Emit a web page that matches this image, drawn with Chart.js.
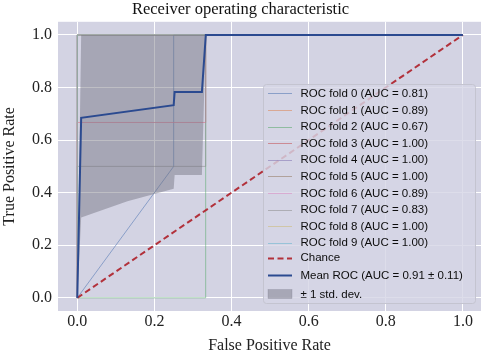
<!DOCTYPE html>
<html><head><meta charset="utf-8">
<script src="https://cdn.jsdelivr.net/npm/chart.js@4/dist/chart.umd.min.js"></script>
<style>html,body{margin:0;padding:0;background:#fff;overflow:hidden}#wrap{width:481px;height:355px;position:relative}</style>
</head><body><div id="wrap"><canvas id="c" width="481" height="355"></canvas></div>
<script>
// ---- data ----
const xTicks = [0, 0.2, 0.4, 0.6, 0.8, 1.0];
const yTicks = [0, 0.2, 0.4, 0.6, 0.8, 1.0];
const foldLabels = [
  'ROC fold 0 (AUC = 0.81)', 'ROC fold 1 (AUC = 0.89)', 'ROC fold 2 (AUC = 0.67)',
  'ROC fold 3 (AUC = 1.00)', 'ROC fold 4 (AUC = 1.00)', 'ROC fold 5 (AUC = 1.00)',
  'ROC fold 6 (AUC = 0.89)', 'ROC fold 7 (AUC = 0.83)', 'ROC fold 8 (AUC = 1.00)',
  'ROC fold 9 (AUC = 1.00)'
];
const foldFpr = [
  [0, 0.25, 0.25, 1],
  [0, 0, 0.333, 0.333, 1],
  [0, 0.333, 0.333, 1],
  [0, 0, 1],
  [0, 0, 1],
  [0, 0, 1],
  [0, 0, 0.333, 0.333, 1],
  [0, 0, 0.333, 0.333, 1],
  [0, 0, 1],
  [0, 0, 1]
];
const foldTpr = [
  [0, 0.5, 1, 1],
  [0, 0.667, 0.667, 1, 1],
  [0, 0, 1, 1],
  [0, 1, 1],
  [0, 1, 1],
  [0, 1, 1],
  [0, 0.667, 0.667, 1, 1],
  [0, 0.5, 0.5, 1, 1],
  [0, 1, 1],
  [0, 1, 1]
];
const chanceLabel = 'Chance';
const chanceFpr = [0, 1];
const chanceTpr = [0, 1];
const meanLabel = 'Mean ROC (AUC = 0.91 \u00b1 0.11)';
const meanFpr = [0, 0.0101, 0.25, 0.2525, 0.3232, 0.3333, 1];
const meanTpr = [0, 0.685, 0.733, 0.783, 0.783, 1, 1];
const bandLabel = '\u00b1 1 std. dev.';
const bandFpr = [0, 0.0101, 0.13, 0.25, 0.2525, 0.3232, 0.3333, 1];
const bandUpper = [0, 1, 1, 1, 1, 1, 1, 1];
const bandLower = [0, 0.306, 0.367, 0.415, 0.467, 0.467, 1, 1];

// ---- styles ----
const foldColors = ['#4C72B0','#DD8452','#55A868','#C44E52','#8172B3','#937860','#DA8BC3','#8C8C8C','#CCB974','#64B5CD'];
function hexA(h, a){const n=parseInt(h.slice(1),16);return `rgba(${n>>16},${(n>>8)&255},${n&255},${a})`;}
const pts = (xs, ys) => xs.map((x, i) => ({x: x, y: ys[i]}));
const serif = 'Liberation Serif';

const datasets = [];
foldLabels.forEach((lab, i) => {
  datasets.push({label: lab, data: pts(foldFpr[i], foldTpr[i]), borderColor: hexA(foldColors[i], 0.55),
    borderWidth: 1, pointRadius: 0, showLine: true, tension: 0, fill: false, order: 20 - i, kind: 'line'});
});
datasets.push({label: chanceLabel, data: pts(chanceFpr, chanceTpr), borderColor: 'rgba(176,40,50,0.95)',
  borderWidth: 2, borderDash: [6, 3.5], pointRadius: 0, showLine: true, fill: false, order: 6, kind: 'line'});
datasets.push({label: bandLabel, data: pts(bandFpr, bandUpper), borderWidth: 0, borderColor: 'rgba(0,0,0,0)',
  backgroundColor: 'rgba(110,110,125,0.45)', pointRadius: 0, showLine: true, fill: {target: datasets.length + 1},
  order: 5, kind: 'box'});
datasets.push({label: '', data: pts(bandFpr, bandLower), borderWidth: 0, borderColor: 'rgba(0,0,0,0)',
  pointRadius: 0, showLine: true, fill: false, order: 5, kind: 'none'});
datasets.push({label: meanLabel, data: pts(meanFpr, meanTpr), borderColor: '#2b4a90',
  borderWidth: 2, pointRadius: 0, showLine: true, fill: false, order: 4, kind: 'line'});

const bgPlugin = {
  id: 'bg',
  beforeDraw(chart) {
    const {ctx, chartArea: a} = chart;
    ctx.save();
    ctx.fillStyle = '#fff'; ctx.fillRect(0, 0, chart.width, chart.height);
    ctx.fillStyle = '#d3d3e3'; ctx.fillRect(a.left, a.top, a.right - a.left, a.bottom - a.top);
    ctx.restore();
  }
};

const legendPlugin = {
  id: 'innerLegend',
  afterDatasetsDraw(chart) {
    const ctx = chart.ctx;
    const ds = chart.data.datasets;
    ctx.save();
    const bx = 263.5, by = 84.5, bw = 212, bh = 219, r = 3;
    ctx.beginPath();
    ctx.moveTo(bx + r, by); ctx.lineTo(bx + bw - r, by); ctx.arcTo(bx + bw, by, bx + bw, by + r, r);
    ctx.lineTo(bx + bw, by + bh - r); ctx.arcTo(bx + bw, by + bh, bx + bw - r, by + bh, r);
    ctx.lineTo(bx + r, by + bh); ctx.arcTo(bx, by + bh, bx, by + bh - r, r);
    ctx.lineTo(bx, by + r); ctx.arcTo(bx, by, bx + r, by, r); ctx.closePath();
    ctx.fillStyle = 'rgba(214,214,229,0.82)'; ctx.fill();
    ctx.strokeStyle = '#c4c4d0'; ctx.lineWidth = 1; ctx.stroke();
    const order = [];
    for (let i = 0; i < foldLabels.length; i++) order.push([ds[i], 93.3 + i * 16.6]);
    const find = l => ds.find(d => d.label === l);
    order.push([find(chanceLabel), 257.7]);
    order.push([find(meanLabel), 275.3]);
    order.push([find(bandLabel), 294]);
    ctx.font = '11.5px "Liberation Sans", Arial, sans-serif';
    ctx.textBaseline = 'middle';
    order.forEach(([d, y]) => {
      if (d.kind === 'box') {
        ctx.fillStyle = d.backgroundColor; ctx.fillRect(268, y - 4.5, 24, 9);
        ctx.strokeStyle = d.backgroundColor; ctx.lineWidth = 0.5; ctx.strokeRect(268, y - 4.5, 24, 9);
      } else {
        ctx.beginPath(); ctx.setLineDash(d.borderDash || []);
        ctx.strokeStyle = d.borderColor; ctx.lineWidth = d.borderWidth;
        ctx.moveTo(268, Math.round(y) + 0.5); ctx.lineTo(292, Math.round(y) + 0.5); ctx.stroke();
        ctx.setLineDash([]);
      }
      ctx.fillStyle = '#0d0d0d';
      ctx.fillText(d.label, 300.5, y + 0.5);
    });
    ctx.restore();
  }
};

const tickFont = {family: serif, size: 16, weight: 'normal'};
new Chart(document.getElementById('c'), {
  type: 'scatter',
  data: {datasets: datasets},
  options: {
    responsive: false, animation: false, devicePixelRatio: 1,
    layout: {padding: 0},
    plugins: {
      legend: {display: false}, tooltip: {enabled: false},
      filler: {propagate: false},
      title: {display: true, text: 'Receiver operating characteristic',
        font: {family: serif, size: 16.5, weight: 'normal'}, color: '#111', padding: {top: 0, bottom: 2}}
    },
    scales: {
      x: {type: 'linear', min: -0.05, max: 1.047,
        afterBuildTicks: s => { s.ticks = xTicks.map(v => ({value: v})); },
        afterFit: s => { s.height = 44; },
        ticks: {callback: v => Number(v).toFixed(1), font: tickFont, color: '#222', padding: 1, maxRotation: 0, autoSkip: false},
        grid: {color: '#ffffff', lineWidth: 1, drawTicks: false},
        border: {display: false},
        title: {display: true, text: 'False Positive Rate', font: tickFont, color: '#222', padding: 0}
      },
      y: {type: 'linear', min: -0.05, max: 1.05,
        afterBuildTicks: s => { s.ticks = yTicks.map(v => ({value: v})); },
        afterFit: s => { s.width = 58; },
        ticks: {callback: v => Number(v).toFixed(1), font: tickFont, color: '#222', padding: 6, autoSkip: false},
        grid: {color: '#ffffff', lineWidth: 1, drawTicks: false},
        border: {display: false},
        title: {display: true, text: 'True Positive Rate', font: tickFont, color: '#222', padding: 0}
      }
    }
  },
  plugins: [bgPlugin, legendPlugin]
});
</script></body></html>
